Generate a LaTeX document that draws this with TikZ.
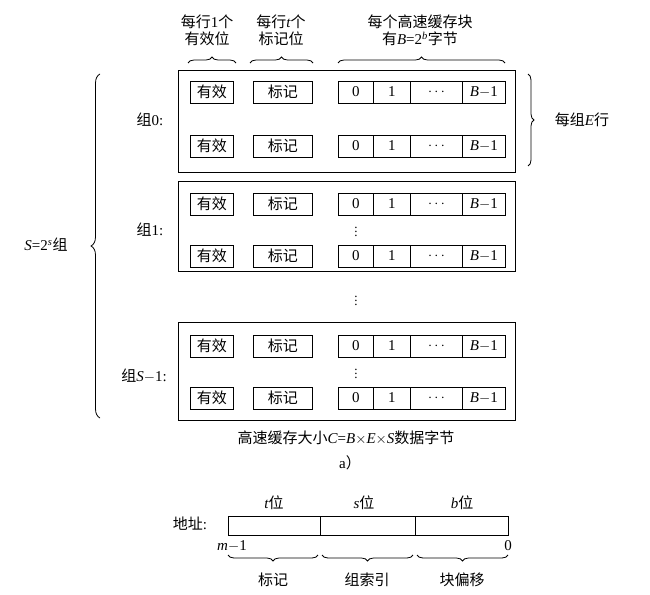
\documentclass[tikz,border=0pt]{standalone}
\usepackage{fontspec}
\setmainfont{Liberation Serif}
\newfontfamily\cjk{Noto Sans CJK SC}
\usetikzlibrary{decorations.pathreplacing}
\newcommand{\zh}[1]{{\cjk #1}}
\begin{document}
\begin{tikzpicture}[x=1pt,y=-1pt,font=\fontsize{15}{17}\selectfont,
  cell/.style={draw,thick,minimum height=22pt,inner sep=0pt,anchor=west},
  grp/.style={draw,thick},
  dots/.style={inner sep=0pt,font=\fontsize{13}{13}\selectfont},
  br/.style={decorate,decoration={brace,amplitude=6pt},thick}]
\useasboundingbox (0,0) rectangle (650,594);
\node[align=center] (l1) at (207,30) {\zh{每行}1\zh{个}\\\zh{有效位}};
\node[align=center] (l2) at (281,30) {\zh{每行}\textit{t}\zh{个}\\\zh{标记位}};
\node[align=center] (l3) at (420,30) {\zh{每个高速缓存块}\\\zh{有}\textit{B}=2\textsuperscript{\textit{b}}\zh{字节}};
\draw[br] (188,63) -- (236,63);
\draw[br] (250,63) -- (313,63);
\draw[br] (338,63) -- (505,63);
\newcommand{\myrow}[2]{%
  \node[cell,minimum width=43pt] (v#1) at (190,#2) {\zh{有效}};
  \node[cell,minimum width=59pt] (t#1) at (253,#2) {\zh{标记}};
  \node[cell,minimum width=35pt] (a#1) at (338,#2) {0};
  \node[cell,minimum width=37pt] (b#1) at (373,#2) {1};
  \node[cell,minimum width=52pt] (c#1) at (410,#2) {$\cdots$};
  \node[cell,minimum width=43pt] (d#1) at (462,#2) {\textit{B}$-$1};}
\node[grp,minimum width=337pt,minimum height=102pt,anchor=north west] (g0) at (178,70) {};
\myrow{1}{92}\myrow{2}{146}
\node[grp,minimum width=337pt,minimum height=90pt,anchor=north west] (g1) at (178,181) {};
\myrow{3}{204}\myrow{4}{256}
\node[dots] (vd1) at (356,229) {$\vdots$};
\node[dots] (vd2) at (356,298) {$\vdots$};
\node[grp,minimum width=337pt,minimum height=98pt,anchor=north west] (g2) at (178,322) {};
\myrow{5}{346}\myrow{6}{398}
\node[dots] (vd3) at (356,371) {$\vdots$};
\node (n0) at (150,120) {\zh{组}0:};
\node (n1) at (150,230) {\zh{组}1:};
\node (n2) at (144,376) {\zh{组}\textit{S}$-$1:};
\draw[br] (528,74) -- (528,166);
\node (e) at (582,120) {\zh{每组}\textit{E}\zh{行}};
\draw[br,decoration={amplitude=9pt}] (100,418) -- (100,74);
\node (s) at (46,245) {\textit{S}=2\textsuperscript{\textit{s}}\zh{组}};
\node (cap) at (346,438) {\zh{高速缓存大小}\textit{C}=\textit{B}$\times$\textit{E}$\times$\textit{S}\zh{数据字节}};
\node (a) at (350,463) {a\zh{）}};
\node[cell,minimum width=92pt,minimum height=19pt] (at) at (228,526) {};
\node[cell,minimum width=95pt,minimum height=19pt] (as) at (320,526) {};
\node[cell,minimum width=93pt,minimum height=19pt] (ab) at (415,526) {};
\node (addr) at (190,524) {\zh{地址}:};
\node (tt) at (274,503) {\textit{t}\zh{位}};
\node (ss) at (364,503) {\textit{s}\zh{位}};
\node (bb) at (462,503) {\textit{b}\zh{位}};
\node (m1) at (232,546) {\textit{m}$-$1};
\node (z) at (508,546) {0};
\draw[br] (318,555) -- (228,555);
\draw[br] (413,555) -- (322,555);
\draw[br] (508,555) -- (417,555);
\node (k1) at (273,580) {\zh{标记}};
\node (k2) at (367,580) {\zh{组索引}};
\node (k3) at (462,580) {\zh{块偏移}};
\end{tikzpicture}
\end{document}
